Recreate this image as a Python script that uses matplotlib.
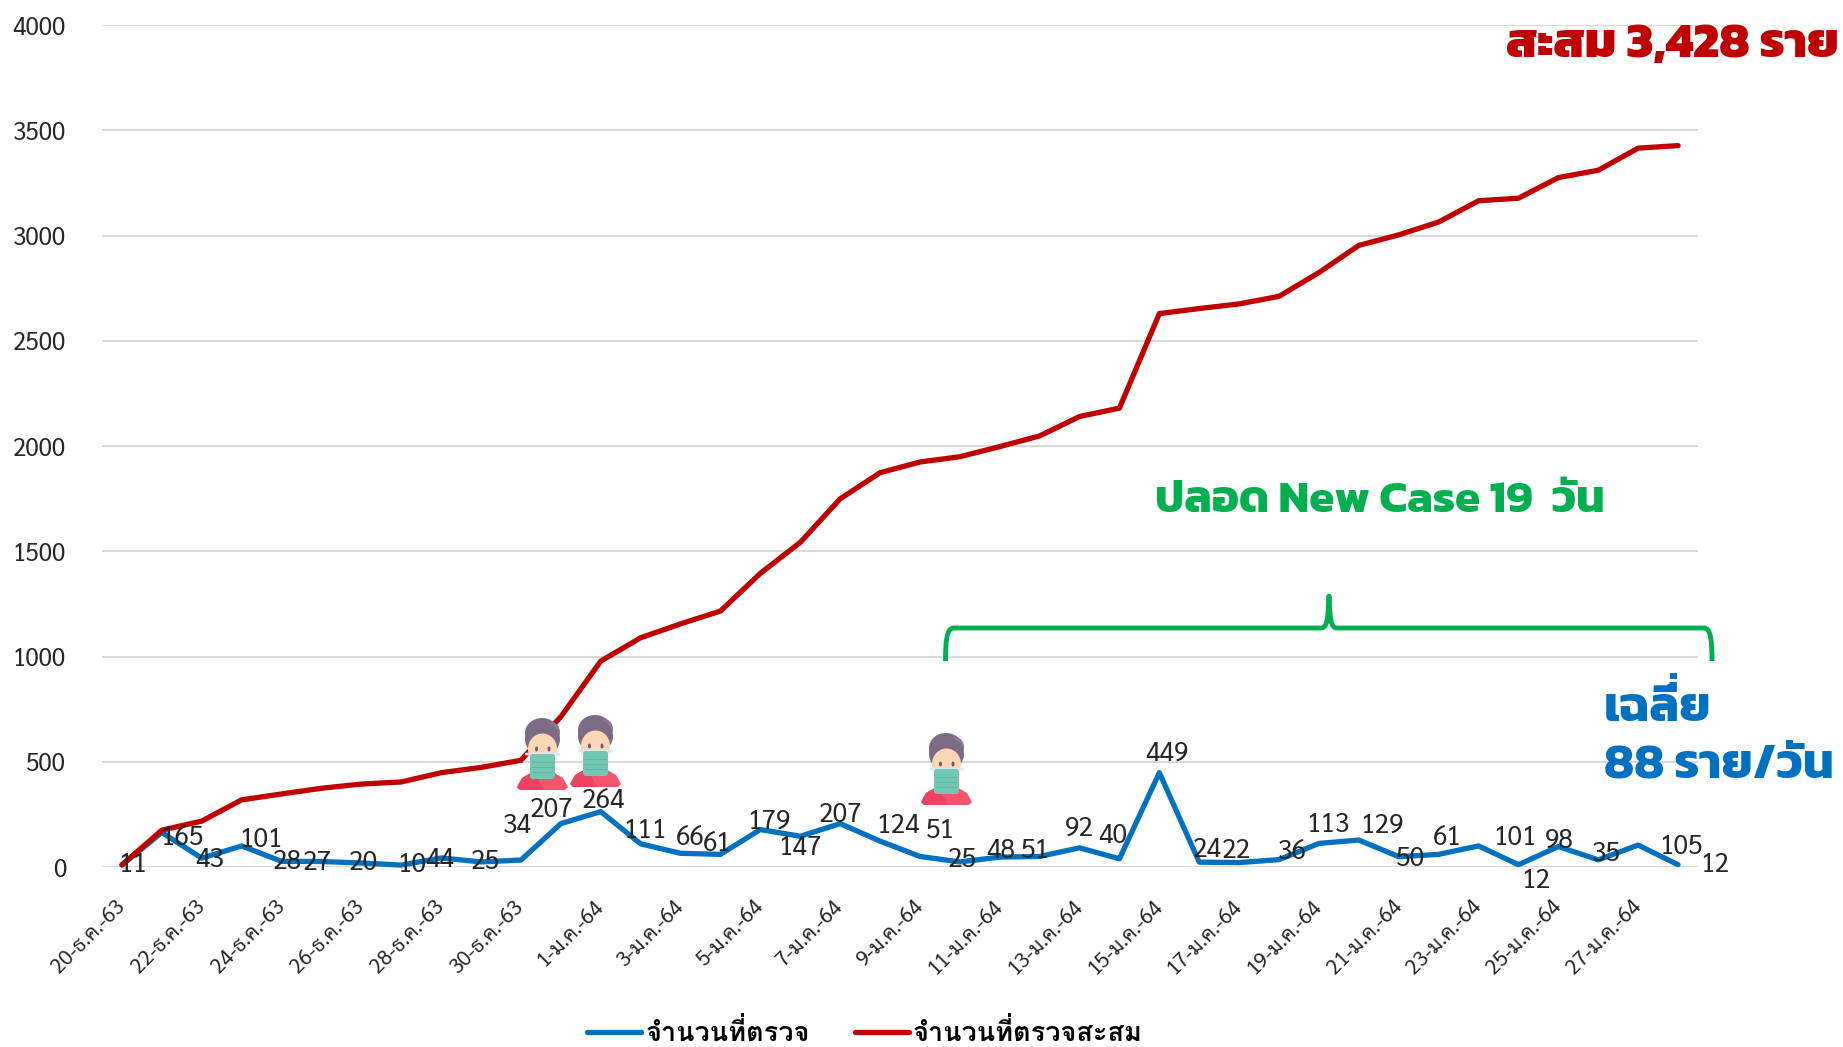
import matplotlib
matplotlib.use("Agg")
import matplotlib.pyplot as plt
from matplotlib.lines import Line2D
from matplotlib.patches import Ellipse, FancyBboxPatch, PathPatch, Polygon, Rectangle
from matplotlib.path import Path

W, H = 1843, 1047
BODY = ["Sarabun", "DejaVu Sans"]
LEGEND = ["Loma", "Sarabun", "DejaVu Sans"]
HEAVY = ["Kanit", "DejaVu Sans"]
BLUE = "#0070C0"
RED = "#C00000"
GREEN = "#00B050"
GRID = "#D9D9D9"
INK = "#262626"

# วันที่ (ทุกวัน) - แสดงวันเว้นวันบนแกน x
dates = [
    "20-ธ.ค.-63", "21-ธ.ค.-63", "22-ธ.ค.-63", "23-ธ.ค.-63", "24-ธ.ค.-63", "25-ธ.ค.-63",
    "26-ธ.ค.-63", "27-ธ.ค.-63", "28-ธ.ค.-63", "29-ธ.ค.-63", "30-ธ.ค.-63", "31-ธ.ค.-63",
    "1-ม.ค.-64", "2-ม.ค.-64", "3-ม.ค.-64", "4-ม.ค.-64", "5-ม.ค.-64", "6-ม.ค.-64",
    "7-ม.ค.-64", "8-ม.ค.-64", "9-ม.ค.-64", "10-ม.ค.-64", "11-ม.ค.-64", "12-ม.ค.-64",
    "13-ม.ค.-64", "14-ม.ค.-64", "15-ม.ค.-64", "16-ม.ค.-64", "17-ม.ค.-64", "18-ม.ค.-64",
    "19-ม.ค.-64", "20-ม.ค.-64", "21-ม.ค.-64", "22-ม.ค.-64", "23-ม.ค.-64", "24-ม.ค.-64",
    "25-ม.ค.-64", "26-ม.ค.-64", "27-ม.ค.-64", "28-ม.ค.-64",
]
daily = [
    11, 165, 43, 101, 28, 27, 20, 10, 44, 25, 34, 207, 264, 111, 66, 61, 179, 147, 207, 124,
    51, 25, 48, 51, 92, 40, 449, 24, 22, 36, 113, 129, 50, 61, 101, 12, 98, 35, 105, 12,
]
cumulative = [
    11, 176, 219, 320, 348, 375, 395, 405, 449, 474, 508, 715, 979, 1090, 1156, 1217, 1396, 1543, 1750, 1874,
    1925, 1950, 1998, 2049, 2141, 2181, 2630, 2654, 2676, 2712, 2825, 2954, 3004, 3065, 3166, 3178, 3276, 3311, 3416, 3428,
]
y_ticks = [0, 500, 1000, 1500, 2000, 2500, 3000, 3500, 4000]

# ตำแหน่งป้ายตัวเลขเทียบกับจุด (พิกเซลของภาพย่อ 1568)
label_dx = [9, 17, 7, 16, 5, -3.5, 1.5, 9, -1, 4, -3, -8, 2, 4, 8, -3, 7, 0, 0, 15,
            17, 2, 1, -4, 0, -5.5, 6.5, 7, -2, 11, 8, 20, 10, 7, 31, 15, 1, 7, 36, 31]
label_dy = [0, -4.6, -2, 5, -1, -1, 0, 0, -2, 0, 29, 12, 9, 11, 13, 9, 7, -10, 7, 13,
            22, 1.5, 5, 5, 16.5, 19, 16.5, 10, 10, 6.5, 16, 12, -2, 14, 7, -14, 5, 5, -2, 0]
LABEL_SCALE = W / 1568


def draw_person(ov, left, top):
    # ไอคอนคนใส่หน้ากาก ขนาดราว 51x72 px
    def px(x, y):
        return (left + x, top + y)

    ov.add_patch(Polygon([px(0, 69), px(5, 60), px(17, 53), px(34, 53), px(46, 60), px(51, 69), px(48, 72), px(3, 72)],
                         closed=True, fc="#F2566F", ec="none", zorder=20))
    ov.add_patch(Polygon([px(17, 53), px(27, 72), px(3, 72), px(0, 69), px(5, 60)], closed=True, fc="#EA4462", ec="none", zorder=20))
    ov.add_patch(Ellipse(px(25, 15), 34, 30, fc="#7D6B86", ec="none", zorder=21))
    ov.add_patch(Ellipse(px(34, 14), 18, 20, fc="#8A7892", ec="none", zorder=21))
    ov.add_patch(Ellipse(px(25.5, 21), 35, 34, fc="#7D6B86", ec="none", zorder=21))
    ov.add_patch(Ellipse(px(25.5, 31), 29, 31, fc="#FBD7B8", ec="none", zorder=22))
    ov.add_patch(Ellipse(px(19.5, 31), 3, 5, fc="#6D5A78", ec="none", zorder=23))
    ov.add_patch(Ellipse(px(32, 31), 3, 5, fc="#6D5A78", ec="none", zorder=23))
    ov.add_patch(FancyBboxPatch(px(9, 35.5), 33, 1.2, boxstyle="round,pad=0.8", fc="#DCE6F2", ec="none", zorder=23))
    ov.add_patch(FancyBboxPatch(px(16, 39), 19, 19, boxstyle="round,pad=3", fc="#73C8B4", ec="none", zorder=24))
    for y in (44, 49, 54):
        ov.plot([left + 15, left + 36], [top + y, top + y], color="#62B8A4", lw=0.7, zorder=25)


def draw_brace(ov, x0, x_mid, x1, y_bar, y_tip, y_end):
    r = 8
    verts = [(x0, y_end), (x0, y_bar + 14), (x0 + 1, y_bar), (x0 + r, y_bar),
             (x_mid - 8, y_bar), (x_mid - 2, y_bar), (x_mid - 1, y_bar - 8), (x_mid, y_tip),
             (x_mid, y_tip), (x_mid + 1, y_bar - 8), (x_mid + 2, y_bar), (x_mid + 8, y_bar),
             (x1 - r, y_bar), (x1 - 1, y_bar), (x1, y_bar + 14), (x1, y_end)]
    codes = [Path.MOVETO, Path.CURVE4, Path.CURVE4, Path.CURVE4,
             Path.LINETO, Path.CURVE4, Path.CURVE4, Path.CURVE4,
             Path.LINETO, Path.CURVE4, Path.CURVE4, Path.CURVE4,
             Path.LINETO, Path.CURVE4, Path.CURVE4, Path.CURVE4]
    ov.add_patch(PathPatch(Path(verts, codes), fc="none", ec=GREEN, lw=3.5, capstyle="butt", joinstyle="round", zorder=15))


fig = plt.figure(figsize=(W / 100, H / 100), dpi=100)
ax = fig.add_axes([102 / W, 1 - 867.2 / H, 1596 / W, 842 / H])

x = list(range(len(dates)))
ax.plot(x, daily, color=BLUE, lw=3.8, solid_capstyle="round", solid_joinstyle="round", clip_on=False, zorder=3)
ax.plot(x, cumulative, color=RED, lw=3.8, solid_capstyle="round", solid_joinstyle="round", clip_on=False, zorder=4)

for i, v in enumerate(daily):
    ax.annotate(str(v), (i, v), xytext=(label_dx[i] * LABEL_SCALE, label_dy[i] * LABEL_SCALE),
                textcoords="offset pixels", ha="center", va="center", fontsize=19, family=BODY, color=INK, zorder=6)

ax.set_xlim(-0.5, len(dates) - 0.5)
ax.set_ylim(0, 4000)
ax.set_yticks(y_ticks)
ax.set_xticks(x[::2])
ax.set_xticklabels(dates[::2], rotation=45, ha="right", va="center", rotation_mode="anchor", family=BODY, fontsize=15, color=INK)
ax.tick_params(axis="x", length=0, pad=26)
ax.tick_params(axis="y", length=0, pad=26, labelsize=17.5, labelcolor=INK)
for t in ax.get_yticklabels():
    t.set_family(BODY)
    t.set_verticalalignment("center_baseline")
ax.grid(axis="y", color=GRID, lw=1.45)
ax.set_axisbelow(True)
for s in ax.spines.values():
    s.set_visible(False)

# ชั้นวาดตามพิกเซลของภาพ สำหรับข้อความเน้นและไอคอน
ov = fig.add_axes([0, 0, 1, 1], facecolor="none")
ov.set_xlim(0, W)
ov.set_ylim(H, 0)
ov.axis("off")

draw_brace(ov, 945.5, 1329, 1712, 628, 596, 661)
for left, top in [(517, 718), (570, 715), (921, 733)]:
    draw_person(ov, left, top)

ov.text(1839, 57, "สะสม 3,428 ราย", color=RED, fontsize=35.5, family=HEAVY, weight=800, ha="right", va="baseline")
ov.text(1155, 512, "ปลอด New Case 19  วัน", color=GREEN, fontsize=32.8, family=HEAVY, weight=700, ha="left", va="baseline")
ov.text(1604, 721, "เฉลี่ย", color=BLUE, fontsize=35.5, family=HEAVY, weight=700, ha="left", va="baseline")
ov.text(1604, 778, "88 ราย/วัน", color=BLUE, fontsize=35.5, family=HEAVY, weight=700, ha="left", va="baseline")
# ไม้เอกของ เฉลี่ย: ฟอนต์ไม่ยกวรรณยุกต์ให้เอง
ov.add_patch(Rectangle((1670, 672.5), 7, 6, fc=BLUE, ec="none", zorder=8))

handles = [Line2D([], [], color=BLUE, lw=3.8, solid_capstyle="round"), Line2D([], [], color=RED, lw=3.8, solid_capstyle="round")]
leg = fig.legend(handles, ["จำนวนที่ตรวจ", "จำนวนที่ตรวจสะสม"], loc="center", bbox_to_anchor=(865 / W, 1 - 1032 / H), ncol=2,
                 frameon=False, prop={"family": LEGEND, "size": 19.5, "weight": 700}, handlelength=2.0, handletextpad=0.15, columnspacing=1.65)

fig.savefig("out.png", dpi=100)
